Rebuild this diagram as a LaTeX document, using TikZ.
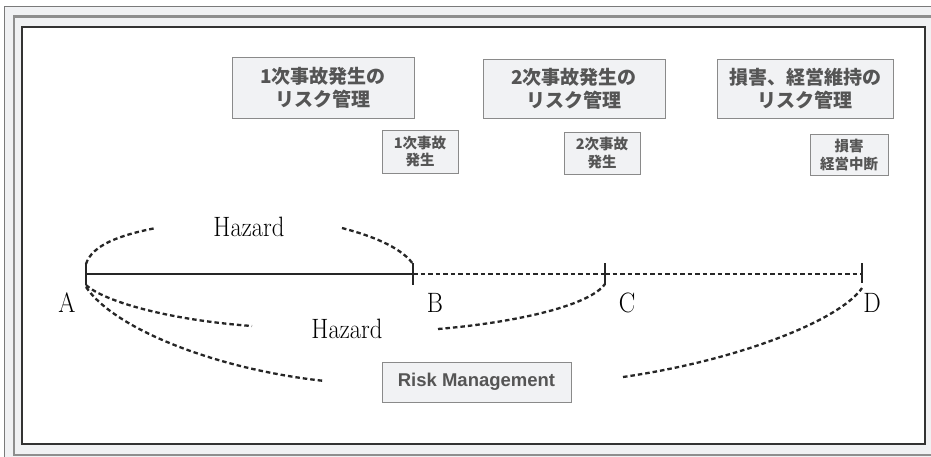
\documentclass[tikz,border=0pt]{standalone}
\usepackage{fontspec}
\newfontfamily\jp{Noto Sans CJK JP}
\newfontfamily\libsans{Liberation Sans}
\definecolor{boxfill}{HTML}{F1F2F4}
\definecolor{boxline}{HTML}{8A8A8A}
\definecolor{boxtext}{HTML}{555555}
\definecolor{framefill}{HTML}{F0F1F3}
\definecolor{framegray}{HTML}{7A7A7A}
\definecolor{framedark}{HTML}{333333}
\tikzset{
  box/.style={draw=boxline, line width=1pt, fill=boxfill, text=boxtext, inner sep=0pt, align=center},
  bigbox/.style={box, font=\jp\bfseries\fontsize{19}{23}\selectfont},
  smallbox/.style={box, font=\jp\bfseries\fontsize{14.5}{17.5}\selectfont},
  rmbox/.style={box, font=\libsans\bfseries\fontsize{18.5}{22}\selectfont},
  lbl/.style={anchor=base, inner sep=0pt, font=\fontsize{28}{30}\selectfont},
  tick/.style={line width=2.6pt, draw=black!85},
  mainline/.style={line width=2.4pt, draw=black!85},
  dline/.style={line width=2.3pt, draw=black!85, dash pattern=on 4.5pt off 3pt},
}
\newcommand{\narrow}[1]{\scalebox{0.88}[1]{#1}}
\begin{document}
\begin{tikzpicture}[x=1pt,y=-1pt]
\useasboundingbox (0,0) rectangle (931,456);
% frames
\begin{scope}
\clip (0,0) rectangle (931,456);
\filldraw[fill=framefill, draw=framegray, line width=1.2pt] (4.5,6.5) rectangle (960,480);
\draw[draw=framegray!85, line width=2.2pt] (14,16.5) rectangle (960,455);
\filldraw[fill=white, draw=framedark, line width=2.2pt] (22,27) rectangle (925,444);
\end{scope}
% boxes
\node[bigbox, minimum width=182pt, minimum height=61pt] (bx1) at (323,87.5) {1次事故発生の\\リスク管理};
\node[bigbox, minimum width=182pt, minimum height=59pt] (bx2) at (574,88.5) {2次事故発生の\\リスク管理};
\node[bigbox, minimum width=176pt, minimum height=59pt] (bx3) at (805,88.5) {損害、経営維持の\\リスク管理};
\node[smallbox, minimum width=76pt, minimum height=43pt] (sb1) at (420,151.5) {1次事故\\発生};
\node[smallbox, minimum width=76pt, minimum height=42pt] (sb2) at (602,153) {2次事故\\発生};
\node[smallbox, minimum width=78pt, minimum height=41pt] (sb3) at (849,155) {損害\\経営中断};
\node[rmbox, minimum width=189pt, minimum height=40pt] (rm) at (476.5,382) {Risk Management};
% timeline points
\coordinate (A) at (86,274);
\coordinate (B) at (413,274);
\coordinate (C) at (605,274);
\coordinate (D) at (862,274);
\draw[mainline] (A) -- (B);
\draw[dline] (B) -- (C);
\draw[dline] (C) -- (D);
\draw[tick] ([yshift=11pt]A) -- ([yshift=-11pt]A);
\draw[tick] ([yshift=11pt]B) -- ([yshift=-11pt]B);
\draw[tick] ([yshift=11pt]C) -- ([yshift=-11pt]C);
\draw[tick] ([yshift=11pt]D) -- ([yshift=-9pt]D);
% labels
\node[lbl] (la) at (67,312) {\narrow{A}};
\node[lbl] (lb) at (435,312) {\narrow{B}};
\node[lbl] (lc) at (627,312) {\narrow{C}};
\node[lbl] (ld) at (872,312) {\narrow{D}};
\node[lbl] (hz1) at (249,236) {\narrow{Hazard}};
\node[lbl] (hz2) at (347,338) {\narrow{Hazard}};
% curve free ends
\coordinate (e1) at (156,228);
\coordinate (e2) at (342,228);
\coordinate (e3) at (252,326);
\coordinate (e4) at (438,329);
\coordinate (e5) at (325,381);
\coordinate (e6) at (623,377);
% dashed curves
\draw[dline] ([yshift=10pt]A) .. controls (92,245) and (120,235) .. (e1);
\draw[dline] (e2) .. controls (380,238) and (403,250) .. ([yshift=10pt]B);
\draw[dline] ([yshift=-11pt]A) .. controls (105,302) and (170,320) .. (e3);
\draw[dline] (e4) .. controls (520,322) and (590,305) .. ([yshift=-10pt]C);
\draw[dline] ([yshift=-13pt]A) .. controls (115,330) and (220,370) .. (e5);
\draw[dline] (e6) .. controls (740,360) and (840,320) .. ([yshift=-14pt]D);
\end{tikzpicture}
\end{document}
